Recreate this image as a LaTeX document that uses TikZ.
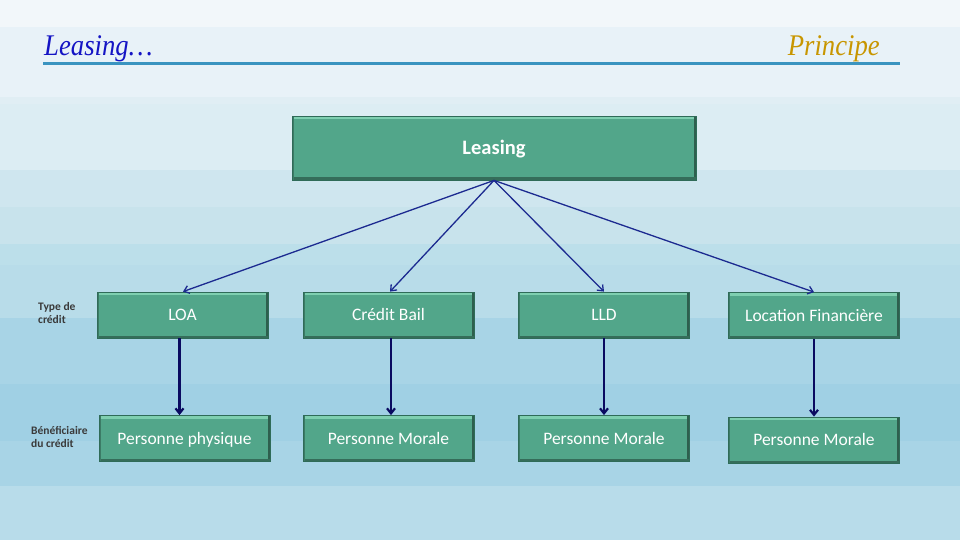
\documentclass[tikz,border=0pt]{standalone}
\usepackage{fontspec}
\setmainfont{Carlito}
\newfontfamily\titlefont[FakeStretch=0.89]{Liberation Serif}
\usetikzlibrary{arrows.meta}
\definecolor{boxfill}{HTML}{52A68A}
\definecolor{boxedge}{HTML}{2F6B58}
\definecolor{boxlight}{HTML}{7ECFB0}
\definecolor{boxdark}{HTML}{2E5F4E}
\definecolor{arrA}{HTML}{1C2A90}
\definecolor{arrB}{HTML}{0A0A60}
\definecolor{titleblue}{HTML}{1414C4}
\definecolor{titlegold}{HTML}{C89600}
\definecolor{rulecol}{HTML}{3A94C0}
\definecolor{sidecol}{HTML}{3A3A3A}
\tikzset{
  bevelbox/.style={rectangle, fill=boxfill, draw=boxedge, line width=0.8pt,
    inner sep=0pt, text=white, font=\fontsize{17.5}{20}\selectfont,
    text height=14pt, text depth=2.8pt,
    path picture={
      \fill[boxlight] (path picture bounding box.north west) rectangle ([yshift=-3pt]path picture bounding box.north east);
      \fill[boxdark] ([xshift=-2.5pt]path picture bounding box.north east) rectangle (path picture bounding box.south east);
      \fill[boxdark!80!boxfill] (path picture bounding box.south west) rectangle ([yshift=2.5pt]path picture bounding box.south east);
      \fill[boxdark!60!boxfill] (path picture bounding box.south west) rectangle ([xshift=1.5pt]path picture bounding box.north west);
    }},
  topbox/.style={bevelbox, minimum width=404pt, minimum height=64pt, font=\bfseries\fontsize{20.5}{24}\selectfont,
    text height=16pt, text depth=2.7pt},
  midbox/.style={bevelbox, minimum width=171pt, minimum height=46pt},
  fanarrow/.style={draw=arrA, line width=1.3pt, -{Straight Barb[length=5pt,width=8pt]}},
  downarrow/.style={draw=arrB, line width=2.2pt, -{Straight Barb[length=5pt,width=8pt]}},
  sidelabel/.style={text=sidecol, font=\bfseries\fontsize{11.5}{13.5}\selectfont, align=left, anchor=north west, inner sep=0pt},
}
\begin{document}
\begin{tikzpicture}[x=1pt,y=1pt]
\useasboundingbox (0,0) rectangle (960,-540);
% background bands
\fill[fill={rgb,255:red,242;green,247;blue,250}] (0,0) rectangle (960,-27);
\fill[fill={rgb,255:red,232;green,242;blue,248}] (0,-27) rectangle (960,-97);
\fill[fill={rgb,255:red,224;green,238;blue,244}] (0,-97) rectangle (960,-104);
\fill[fill={rgb,255:red,220;green,237;blue,243}] (0,-104) rectangle (960,-170);
\fill[fill={rgb,255:red,207;green,230;blue,239}] (0,-170) rectangle (960,-207);
\fill[fill={rgb,255:red,200;green,227;blue,236}] (0,-207) rectangle (960,-244);
\fill[fill={rgb,255:red,188;green,223;blue,234}] (0,-244) rectangle (960,-265);
\fill[fill={rgb,255:red,184;green,220;blue,233}] (0,-265) rectangle (960,-318);
\fill[fill={rgb,255:red,168;green,212;blue,230}] (0,-318) rectangle (960,-384);
\fill[fill={rgb,255:red,160;green,208;blue,228}] (0,-384) rectangle (960,-441);
\fill[fill={rgb,255:red,168;green,212;blue,230}] (0,-441) rectangle (960,-486);
\fill[fill={rgb,255:red,184;green,220;blue,234}] (0,-486) rectangle (960,-540);
% title
\node[anchor=base west, inner sep=0pt, text=titleblue, font=\titlefont\itshape\fontsize{30}{33}\selectfont] (ttl) at (44,-56) {Leasing…};
\node[anchor=base east, inner sep=0pt, text=titlegold, font=\titlefont\itshape\fontsize{30}{33}\selectfont] (sub) at (880,-56) {Principe};
\coordinate (rl) at (43,-63.5);
\coordinate (rr) at (900,-63.5);
\draw[draw=rulecol, line width=2.2pt] (rl) -- (rr);
% boxes
\node[topbox] (lea) at (494,-148) {Leasing};
\node[midbox] (loa) at (182.5,-315) {LOA};
\node[midbox] (cb) at (388.5,-315) {Crédit Bail};
\node[midbox] (lld) at (604,-315) {LLD};
\node[midbox] (lf) at (814,-315.5) {Location Financière};
\node[midbox] (pp) at (184.5,-438.5) {Personne physique};
\node[midbox] (pm1) at (388.5,-438.5) {Personne Morale};
\node[midbox] (pm2) at (604,-438.5) {Personne Morale};
\node[midbox] (pm3) at (814,-440) {Personne Morale};
% side labels
\node[sidelabel] (tc) at (38,-302) {Type de\\crédit};
\node[sidelabel] (bc) at (31,-426) {Bénéficiaire\\du crédit};
% arrows
\draw[fanarrow] (lea.south) -- ([xshift=0.5pt]loa.north);
\draw[fanarrow] (lea.south) -- ([xshift=1.5pt]cb.north);
\draw[fanarrow] (lea.south) -- (lld.north);
\draw[fanarrow] (lea.south) -- (lf.north);
\draw[downarrow] ([xshift=-3pt]loa.south) -- ([xshift=-5pt]pp.north);
\draw[downarrow] ([xshift=2.5pt]cb.south) -- ([xshift=2.5pt]pm1.north);
\draw[downarrow] (lld.south) -- (pm2.north);
\draw[downarrow] (lf.south) -- (pm3.north);
\end{tikzpicture}
\end{document}
